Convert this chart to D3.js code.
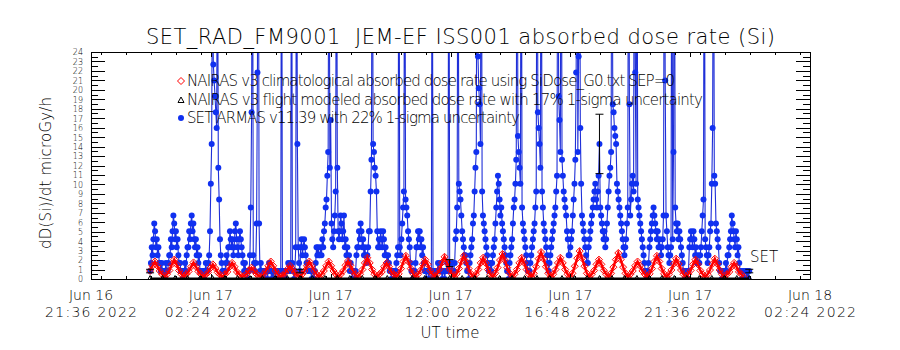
<!DOCTYPE html>
<html>
<head>
<meta charset="utf-8">
<script src="https://cdn.jsdelivr.net/npm/d3@7"></script>
<style>
  body { margin: 0; background: #fff; }
  text { font-family: "DejaVu Sans", sans-serif; font-weight: 200; fill: #000; }
</style>
</head>
<body>
<svg id="chart" width="900" height="350"></svg>
<script>
// ---------- data

const title = "SET_RAD_FM9001  JEM-EF ISS001 absorbed dose rate (Si)";
const xTitle = "UT time";
const yTitle = "dD(Si)/dt microGy/h";
const xTickTimes = ["2022-06-16T21:36Z", "2022-06-17T02:24Z", "2022-06-17T07:12Z",
  "2022-06-17T12:00Z", "2022-06-17T16:48Z", "2022-06-17T21:36Z", "2022-06-18T02:24Z"];
const yTicks = d3.range(0, 25);
const legendLabels = [
  "NAIRAS v3 climatological absorbed dose rate using SiDose_G0.txt SEP=0",
  "NAIRAS v3 flight modeled absorbed dose rate with 17% 1-sigma uncertainty",
  "SET ARMAS v11.39 with 22% 1-sigma uncertainty"
];

const dataStart = "2022-06-16T23:58Z";

// SET ARMAS: counts every 2 minutes, one count = 0.84 microGy/h
const setStepMin = 2;
const setQuantum = 0.84;
const setCounts = [
  1,2,4,3,5,7,6,4,5,3,4,2,   2,1,2,1,1,0,1,2,1,1,2,3,   3,5,4,6,8,7,5,6,4,5,3,2,
  2,1,1,0,1,1,2,1,3,4,4,6,   5,7,8,6,7,5,4,5,3,4,2,3,   1,1,0,1,1,0,1,2,1,1,2,3,
  6,12,17,45,27,25,23,21,19,50,14,10,   5,3,2,1,1,0,1,2,3,2,4,4,   6,5,4,5,3,4,6,7,5,4,3,5,
  6,5,4,3,2,1,2,1,1,0,1,1,   3,9,21,60,3,2,1,2,7,26,60,7,   1,2,1,0,1,1,0,1,1,0,1,2,
  1,1,0,1,0,1,1,0,1,1,0,1,   1,1,60,1,0,1,1,0,1,1,2,1,   1,2,60,2,1,0,1,4,60,17,4,2,
  1,4,5,3,4,5,4,3,2,2,1,1,   1,1,0,1,1,0,1,2,4,3,4,3,   3,4,3,5,4,6,7,9,10,13,16,60,
  14,20,7,5,4,6,8,11,60,14,6,5,   6,8,7,5,6,8,4,5,3,4,2,3,   1,2,1,0,1,1,0,1,3,4,4,6,
  5,7,6,4,5,3,4,3,2,3,4,6,   6,11,15,60,17,16,14,13,11,6,4,5,   4,6,5,4,6,5,3,4,3,2,3,2,
  1,1,0,1,1,0,1,1,2,3,4,60,   4,3,5,7,9,11,60,10,9,8,6,5,   4,2,1,1,0,1,1,2,4,4,6,5,
  6,4,5,3,4,2,1,1,0,1,1,0,   1,1,0,60,1,0,1,1,0,1,2,1,   1,2,1,0,1,1,0,1,1,2,1,60,
  2,1,1,2,1,1,2,5,6,9,60,12,   11,10,8,6,5,4,3,3,2,1,1,0,   2,3,4,5,7,8,11,14,16,60,28,24,
  22,17,60,11,8,7,6,5,4,3,2,1,   1,2,1,2,3,4,5,7,9,11,13,12,   10,8,9,7,6,5,4,3,2,1,1,0,
  2,3,4,5,7,9,10,12,15,60,18,16,   14,12,60,9,7,6,5,4,3,2,1,1,   1,2,3,4,5,6,7,9,11,60,21,19,
  17,14,60,11,9,7,6,5,4,3,2,1,   2,3,4,5,6,7,8,9,11,13,60,23,   20,16,60,15,13,11,10,9,8,6,5,3,
  3,4,5,6,8,10,12,15,26,60,16,28,   60,19,12,8,7,6,5,4,3,2,2,4,   5,6,7,8,9,10,11,12,10,9,11,13,
  17,9,8,7,6,5,6,4,5,7,9,11,   13,14,16,60,22,21,19,18,17,12,11,10,   9,8,7,6,5,4,3,4,5,7,9,60,
  22,8,10,12,13,11,60,26,12,60,10,9,   8,7,6,5,4,3,2,1,1,0,1,2,   4,5,6,7,8,9,8,7,6,5,6,4,
  5,4,3,4,5,8,60,25,8,6,4,3,   2,3,4,60,5,16,60,9,7,6,7,5,   6,5,4,3,2,1,1,0,1,1,0,1,
  4,5,6,5,4,6,5,3,4,2,3,2,   2,3,4,6,8,10,60,5,4,3,2,3,   4,6,7,12,19,60,13,12,7,6,5,4,
  2,1,1,0,1,1,0,1,2,1,3,3,   4,5,6,8,7,6,5,4,6,5,3,4,   2,1,1,0,1,1,0,1,1,0,1,0,
  1
];
const setErrIndex = [0, 180, 360, 540, 720];
const setSigma = 0.22;

// NAIRAS climatological, one value every 5.8 minutes
const climStepMin = 5.8;
const climDose = [
  0.85,1.4,1.85,1.4,0.85,0.5,
  0.2,0.5,0.9,1.55,2.05,1.55,0.9,0.5,     0.2,0.5,0.8,1.3,1.75,1.3,0.8,0.5,
  0.2,0.45,0.7,1.15,1.55,1.15,0.7,0.45,   0.2,0.5,0.75,1.3,1.7,1.3,0.75,0.5,
  0.2,0.35,0.55,0.9,1.2,0.9,0.55,0.35,    0.2,0.5,0.85,1.4,1.85,1.4,0.85,0.5,
  0.2,0.4,0.65,1.05,1.4,1.05,0.65,0.4,    0.2,0.5,0.85,1.4,1.85,1.4,0.85,0.5,
  0.2,0.5,0.85,1.4,1.85,1.4,0.85,0.5,     0.2,0.5,0.85,1.45,1.9,1.45,0.85,0.5,
  0.2,0.5,1.0,1.7,2.25,1.7,1.0,0.5,       0.2,0.5,0.75,1.3,1.7,1.3,0.75,0.5,
  0.2,0.55,1.1,1.85,2.45,1.85,1.1,0.55,   0.2,0.5,0.9,1.55,2.05,1.55,0.9,0.5,
  0.2,0.55,1.05,1.75,2.35,1.75,1.05,0.55, 0.2,0.55,1.1,1.85,2.45,1.85,1.1,0.55,
  0.2,0.5,1.0,1.7,2.25,1.7,1.0,0.5,       0.2,0.6,1.2,2.0,2.65,2.0,1.2,0.6,
  0.2,0.5,1.0,1.7,2.25,1.7,1.0,0.5,       0.2,0.6,1.3,2.15,2.85,2.15,1.3,0.6,
  0.2,0.5,1.0,1.7,2.25,1.7,1.0,0.5,       0.2,0.6,1.35,2.2,2.95,2.2,1.35,0.6,
  0.2,0.5,0.9,1.55,2.05,1.55,0.9,0.5,     0.2,0.6,1.25,2.05,2.75,2.05,1.25,0.6,
  0.2,0.5,0.85,1.4,1.85,1.4,0.85,0.5,     0.2,0.55,1.1,1.85,2.45,1.85,1.1,0.55,
  0.2,0.5,0.95,1.6,2.15,1.6,0.95,0.5,     0.2,0.5,0.9,1.55,2.05,1.55,0.9,0.5,
  0.2,0.5,0.95,1.6,2.15,1.6,0.95,0.5,     0.2,0.5,0.75,1.3,1.7,1.3,0.75,0.5,
  0.2
];

// NAIRAS flight modeled, one value every 30 minutes
const flightStepMin = 30;
const flightDose = [
  0.05,0.05,0.05,0.05,0.05,0.05,0.05,0.05,0.05,0.05,0.05,0.05,0.05,0.05,0.05,0.05,
  0.05,0.05,0.05,0.05,0.05,0.05,0.05,0.05,0.05,0.05,0.05,0.05,0.05,0.05,0.05,0.05,
  0.05,0.05,0.05,0.05,0.05,0.05,0.05,0.05,0.05,0.05,0.05,0.05,0.05,0.05,0.05,0.05,
  0.05
];

// ---------- layout

const svg = d3.select('#chart');
const margin = {top: 52, right: 90, bottom: 71, left: 91};
const width = 900, height = 350;
const x0 = margin.left, x1 = width - margin.right;
const y0 = height - margin.bottom, y1 = margin.top;

const t0 = new Date(dataStart);
const minutes = m => new Date(t0.getTime() + m * 60000);

const xScale = d3.scaleUtc()
  .domain([new Date(xTickTimes[0]), new Date(xTickTimes[xTickTimes.length - 1])])
  .range([x0, x1]);
const yScale = d3.scaleLinear().domain([0, 24]).range([y0, y1]);

svg.append('defs').append('clipPath').attr('id', 'plotClip')
  .append('rect').attr('x', x0).attr('y', y1).attr('width', x1 - x0).attr('height', y0 - y1);

const setData = setCounts.map((c, i) => ({t: minutes(i * setStepMin), v: c * setQuantum}));
const climData = climDose.map((v, i) => ({t: minutes(i * climStepMin), v}));
const flightData = flightDose.map((v, i) => ({t: minutes(i * flightStepMin), v}));

const plot = svg.append('g').attr('clip-path', 'url(#plotClip)');

// SET ARMAS line and dots
const line = d3.line().x(d => xScale(d.t)).y(d => yScale(d.v));
plot.append('path').datum(setData)
  .attr('fill', 'none').attr('stroke', '#1f2fd8').attr('stroke-width', 1.1)
  .attr('d', line);
plot.append('g').selectAll('circle').data(setData).join('circle')
  .attr('cx', d => xScale(d.t)).attr('cy', d => yScale(d.v)).attr('r', 3)
  .attr('fill', '#1030f0');

// NAIRAS climatological: dense chain of open diamonds
const diamond = 'M0,-3.5L3.5,0L0,3.5L-3.5,0Z';
plot.append('path').datum(climData)
  .attr('fill', 'none').attr('stroke', '#ff0000').attr('stroke-width', 2.5)
  .attr('d', line);
plot.append('g').selectAll('path').data(climData).join('path')
  .attr('d', diamond)
  .attr('transform', d => `translate(${xScale(d.t)},${yScale(d.v)})`)
  .attr('fill', 'none').attr('stroke', '#ff0000').attr('stroke-width', 1);

// NAIRAS flight modeled
plot.append('path').datum(flightData)
  .attr('fill', 'none').attr('stroke', '#000').attr('stroke-width', 2)
  .attr('d', line);
const triangle = 'M0,-3L3,2.5L-3,2.5Z';
plot.append('g').selectAll('path').data(flightData).join('path')
  .attr('d', triangle)
  .attr('transform', d => `translate(${xScale(d.t)},${yScale(d.v)})`)
  .attr('fill', 'none').attr('stroke', '#000');

// error bars on SET ARMAS
const errs = setErrIndex.filter(i => i < setData.length).map(i => setData[i]);
const eb = plot.append('g').attr('stroke', '#000').attr('stroke-width', 1);
errs.forEach(d => {
  const cx = xScale(d.t), lo = yScale(d.v * (1 - setSigma)), hi = yScale(d.v * (1 + setSigma));
  eb.append('line').attr('x1', cx).attr('x2', cx).attr('y1', lo).attr('y2', hi);
  eb.append('line').attr('x1', cx - 4).attr('x2', cx + 4).attr('y1', lo).attr('y2', lo);
  eb.append('line').attr('x1', cx - 4).attr('x2', cx + 4).attr('y1', hi).attr('y2', hi);
});

// ---------- axes

const ticks = svg.append('g').attr('stroke', '#000').attr('stroke-width', 1).attr('shape-rendering', 'crispEdges');
const majorX = xTickTimes.map(s => new Date(s));
const minorX = d3.utcMinute.every(72).range(majorX[0], majorX[majorX.length - 1]);
minorX.forEach(t => {
  const px = Math.round(xScale(t)) + 0.5;
  ticks.append('line').attr('x1', px).attr('x2', px).attr('y1', y0).attr('y2', y0 - 3);
  ticks.append('line').attr('x1', px).attr('x2', px).attr('y1', y1).attr('y2', y1 + 3);
});
majorX.forEach(t => {
  const px = Math.round(xScale(t)) + 0.5;
  ticks.append('line').attr('x1', px).attr('x2', px).attr('y1', y0).attr('y2', y0 - 5);
  ticks.append('line').attr('x1', px).attr('x2', px).attr('y1', y1).attr('y2', y1 + 5);
});
d3.range(0, 24.5, 0.5).forEach(v => {
  const py = Math.round(yScale(v)) + 0.5;
  const len = Number.isInteger(v) ? 14 : 7;
  ticks.append('line').attr('x1', x0).attr('x2', x0 + len).attr('y1', py).attr('y2', py);
  ticks.append('line').attr('x1', x1).attr('x2', x1 - len).attr('y1', py).attr('y2', py);
});

svg.append('rect')
  .attr('x', x0 + 0.5).attr('y', y1 + 0.5)
  .attr('width', x1 - x0).attr('height', y0 - y1)
  .attr('fill', 'none').attr('stroke', '#000').attr('shape-rendering', 'crispEdges');

// y axis labels via d3 axis (ticks drawn above, labels only here)
const yAxis = svg.append('g').attr('transform', `translate(${x0},0)`)
  .call(d3.axisLeft(yScale).tickValues(yTicks).tickSize(0).tickPadding(8).tickFormat(d3.format('d')));
yAxis.select('.domain').remove();
yAxis.selectAll('text').attr('font-size', 8).attr('font-family', '"DejaVu Sans", sans-serif')
  .attr('font-weight', 200).attr('dy', '0.36em');

// x axis labels, two lines each
const fmtDay = d3.utcFormat('%b %d');
const fmtTime = d3.utcFormat('%H:%M %Y');
const xl = svg.append('g').attr('font-size', 14).attr('text-anchor', 'middle');
majorX.forEach(t => {
  const px = xScale(t);
  xl.append('text').attr('x', px).attr('y', 300).text(fmtDay(t));
  xl.append('text').attr('x', px).attr('y', 317).attr('textLength', 92).text(fmtTime(t));
});

svg.append('text').attr('x', 450).attr('y', 338).attr('text-anchor', 'middle')
  .attr('font-size', 15).text(xTitle);

svg.append('text')
  .attr('transform', 'translate(51,173) rotate(-90)')
  .attr('text-anchor', 'middle').attr('font-size', 15)
  .attr('textLength', 152).text(yTitle);

svg.append('text').attr('x', 146).attr('y', 44).attr('font-size', 21)
  .style('white-space', 'pre').attr('textLength', 629).text(title);

// ---------- legend

const legendY = [86, 105, 123];
const legendLen = [488, 516, 333];
const lg = svg.append('g');
legendLabels.forEach((s, i) => {
  lg.append('text').attr('x', 187).attr('y', legendY[i]).attr('font-size', 15)
    .attr('textLength', legendLen[i]).text(s);
});
lg.append('path').attr('d', diamond).attr('transform', `translate(181,${legendY[0] - 5})`)
  .attr('fill', 'none').attr('stroke', '#ff0000');
lg.append('path').attr('d', triangle).attr('transform', `translate(181,${legendY[1] - 5})`)
  .attr('fill', 'none').attr('stroke', '#000');
lg.append('circle').attr('cx', 181).attr('cy', legendY[2] - 5).attr('r', 3).attr('fill', '#1030f0');

svg.append('text').attr('x', 750).attr('y', 262).attr('font-size', 15).text('SET');
</script>
</body>
</html>
